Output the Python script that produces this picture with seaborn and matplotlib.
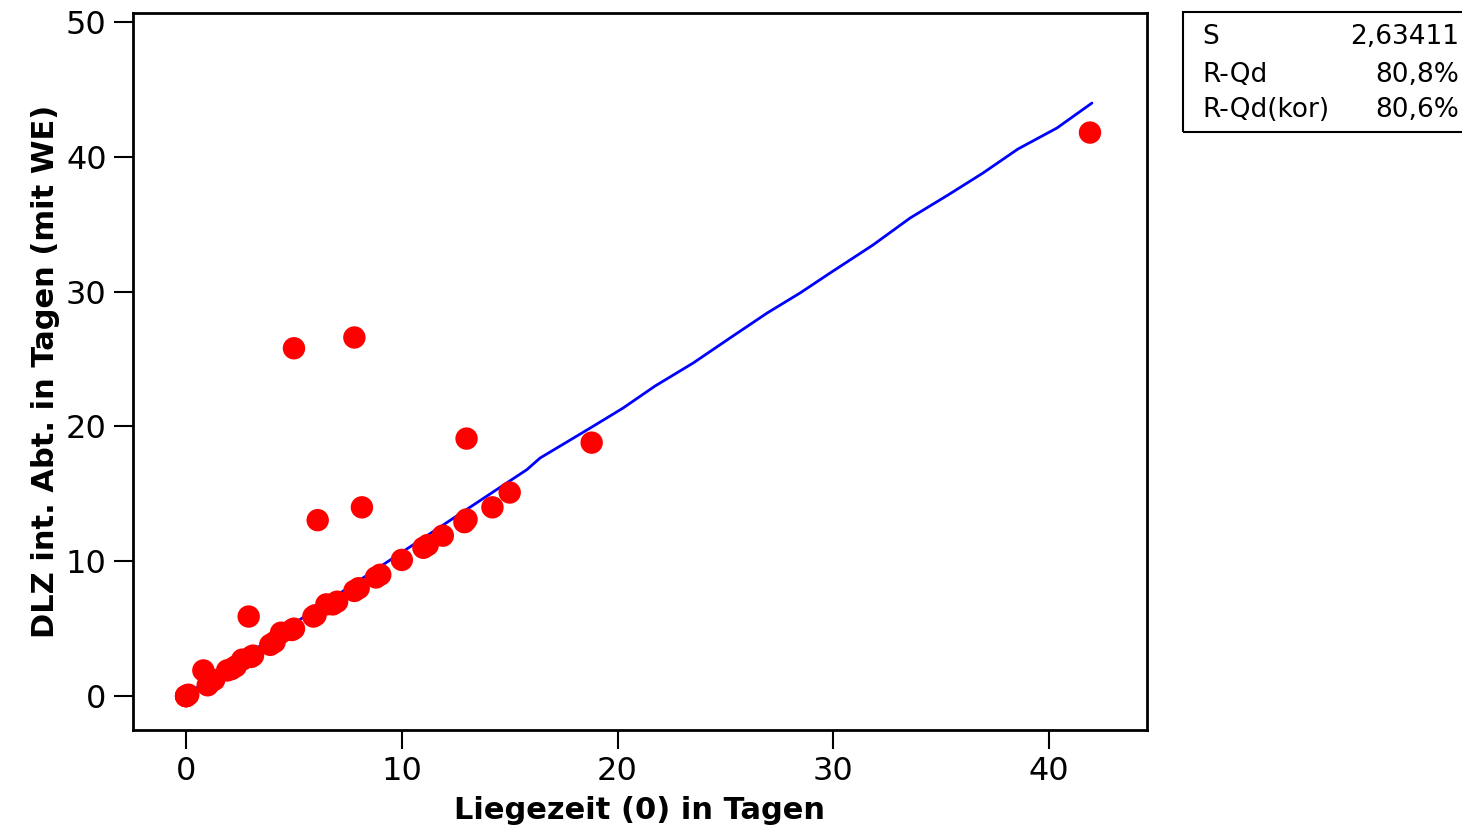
import seaborn as sns
import pandas as pd
import matplotlib.pyplot as plt
from matplotlib.patches import Rectangle

sns.set_style("ticks")
plt.rcParams['font.family'] = ['DejaVu Sans']
plt.rcParams['text.color'] = 'black'
plt.rcParams['axes.labelcolor'] = 'black'

liegezeit = [0, 0, 0, 0, 0.1, 0.8, 1.0, 1.1, 1.3, 1.9, 2.1, 2.3, 2.6, 3.0, 3.1,
             2.9, 3.9, 4.1, 4.4, 4.9, 5.0, 5.9, 6.0, 6.5, 6.8, 7.0, 7.8, 8.0,
             8.8, 9.0, 10.0, 11.0, 11.2, 11.9, 12.9, 13.0, 14.2, 15.0,
             6.1, 8.15, 13.0, 18.8, 5.0, 7.8, 41.9]
dlz = [0, 0, 0, 0, 0.1, 1.9, 0.8, 1.0, 1.2, 1.9, 2.0, 2.2, 2.7, 2.9, 3.0,
       5.9, 3.8, 4.0, 4.7, 4.9, 5.0, 5.9, 6.0, 6.8, 6.8, 7.0, 7.8, 8.0,
       8.8, 9.0, 10.1, 11.0, 11.2, 11.9, 12.9, 13.1, 14.0, 15.1,
       13.05, 14.0, 19.1, 18.8, 25.8, 26.6, 41.8]

# angepasste Linie
fit_x = [0, 7.14, 15.8, 16.41, 18.73, 20.25, 21.74, 23.50, 25.35, 26.93, 28.46,
         29.85, 31.84, 33.56, 35.32, 36.94, 38.56, 40.37, 41.99]
fit_y = [0.1, 7.64, 16.8, 17.66, 19.88, 21.36, 23.0, 24.70, 26.71, 28.41, 29.90,
         31.38, 33.46, 35.46, 37.17, 38.80, 40.58, 42.14, 43.99]

stat_names = ["S", "R-Qd", "R-Qd(kor)"]
stat_values = ["2,63411", "80,8%", "80,6%"]

df = pd.DataFrame({"x": liegezeit, "y": dlz})
fit = pd.DataFrame({"x": fit_x, "y": fit_y})

fig = plt.figure(figsize=(14.62, 8.33), dpi=100)
ax = fig.add_axes([0.091, 0.1236, 0.6935, 0.8608])

sns.lineplot(data=fit, x="x", y="y", ax=ax, color="#0000ff", linewidth=2, sort=False)
sns.scatterplot(data=df, x="x", y="y", ax=ax, color="#ff0000", s=260,
                edgecolor="none", zorder=3)

ax.set_xlim(-2.46, 44.54)
ax.set_ylim(-2.52, 50.67)
ax.set_xticks([0, 10, 20, 30, 40])
ax.set_yticks([0, 10, 20, 30, 40, 50])
ax.tick_params(labelsize=23, length=14, width=1.5, direction="out",
               colors="black", pad=5)
for sp in ax.spines.values():
    sp.set_visible(True)
    sp.set_linewidth(2)
    sp.set_color("black")

ax.set_xlabel("Liegezeit (0) in Tagen", fontsize=22, fontweight="bold", labelpad=6)
ax.set_ylabel("DLZ int. Abt. in Tagen (mit WE)", fontsize=22, fontweight="bold", labelpad=4)

# Statistik-Box rechts oben
fig.patches.append(Rectangle((1183 / 1462, 1 - 132 / 833), 0.3, 120 / 833,
                             transform=fig.transFigure, fill=False,
                             edgecolor="black", linewidth=1.5))
rows_y = [37, 75, 110]
for name, val, yy in zip(stat_names, stat_values, rows_y):
    fig.text(1202 / 1462, 1 - yy / 833, name, fontsize=19, va="center", ha="left")
    fig.text(0.998, 1 - yy / 833, val, fontsize=19, va="center", ha="right")

fig.savefig("out.png", dpi=100)
